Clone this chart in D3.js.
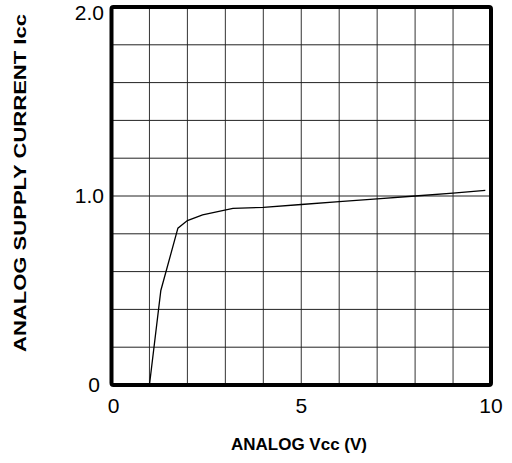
<!DOCTYPE html>
<html>
<head>
<meta charset="utf-8">
<script src="https://cdn.jsdelivr.net/npm/d3@7"></script>
<style>
  body { margin: 0; background: #fff; }
  svg { display: block; }
  .tick-lbl { font-family: 'Liberation Sans', Arial, sans-serif; font-size: 21px; fill: #000; }
  .titulo-eje { font-family: 'Liberation Sans', Arial, sans-serif; font-size: 17px; font-weight: bold; fill: #000; }
</style>
</head>
<body>
<div id="graf"></div>
<script>
// datos
var vcc = [1.0, 1.3, 1.75, 2.0, 2.4, 3.2, 4.0, 5.0, 6.0, 7.0, 8.0, 9.0, 9.85]
var icc = [0, 0.5, 0.83, 0.87, 0.9, 0.935, 0.94, 0.955, 0.97, 0.985, 1.0, 1.015, 1.03]

// etiquetas de los ejes
var xTicks = [0, 5, 10]
var yTicks = [0, 1.0, 2.0]
var xGrid = d3.range(0, 11, 1)
var yGrid = d3.range(0, 2.01, 0.2)

var ancho_total = 512, alto_total = 463
var margins = { top: 7, left: 111.5, right: 21, bottom: 78 }

var svg = d3.select('#graf').append('svg')
            .attr('width', ancho_total)
            .attr('height', alto_total)

var x = d3.scaleLinear()
          .domain([0, 10])
          .range([margins.left, ancho_total - margins.right])

var y = d3.scaleLinear()
          .domain([0, 2])
          .range([alto_total - margins.bottom, margins.top])

// rejilla
svg.append('g')
   .selectAll('line')
   .data(xGrid)
   .enter().append('line')
     .attr('x1', d => x(d)).attr('x2', d => x(d))
     .attr('y1', y(0)).attr('y2', y(2))
     .attr('stroke', '#333')
     .attr('stroke-width', 1)

svg.append('g')
   .selectAll('line')
   .data(yGrid)
   .enter().append('line')
     .attr('x1', x(0)).attr('x2', x(10))
     .attr('y1', d => y(d)).attr('y2', d => y(d))
     .attr('stroke', '#222')
     .attr('stroke-width', 1)

// curva
var linea = d3.line()
              .x((d, i) => x(vcc[i]))
              .y(d => y(d))

svg.append('path')
   .datum(icc)
   .attr('d', linea)
   .attr('fill', 'none')
   .attr('stroke', '#000')
   .attr('stroke-width', 1.3)

// marco grueso
svg.append('rect')
   .attr('x', x(0))
   .attr('y', y(2))
   .attr('width', x(10) - x(0))
   .attr('height', y(0) - y(2))
   .attr('fill', 'none')
   .attr('stroke', '#000')
   .attr('stroke-width', 4)
   .attr('rx', 2)

// etiquetas
svg.append('g')
   .selectAll('text')
   .data(xTicks)
   .enter().append('text')
     .attr('class', 'tick-lbl')
     .attr('x', d => x(d) + (d == 0 ? 2 : 0))
     .attr('y', y(0) + 28)
     .attr('text-anchor', 'middle')
     .text(d => d)

svg.append('g')
   .selectAll('text')
   .data(yTicks)
   .enter().append('text')
     .attr('class', 'tick-lbl')
     .attr('x', d => d == 0 ? 100 : 104)
     .attr('y', d => Math.max(y(d) + 7, 20))
     .attr('text-anchor', 'end')
     .text(d => d == 0 ? '0' : d3.format('.1f')(d))

svg.append('text')
   .attr('class', 'titulo-eje')
   .attr('x', 299)
   .attr('y', 450)
   .attr('text-anchor', 'middle')
   .text('ANALOG Vcc (V)')

svg.append('text')
   .attr('class', 'titulo-eje')
   .attr('transform', 'translate(26, 183) rotate(-90)')
   .attr('text-anchor', 'middle')
   .attr('textLength', 338)
   .attr('lengthAdjust', 'spacingAndGlyphs')
   .text('ANALOG SUPPLY CURRENT Icc')
</script>
</body>
</html>
